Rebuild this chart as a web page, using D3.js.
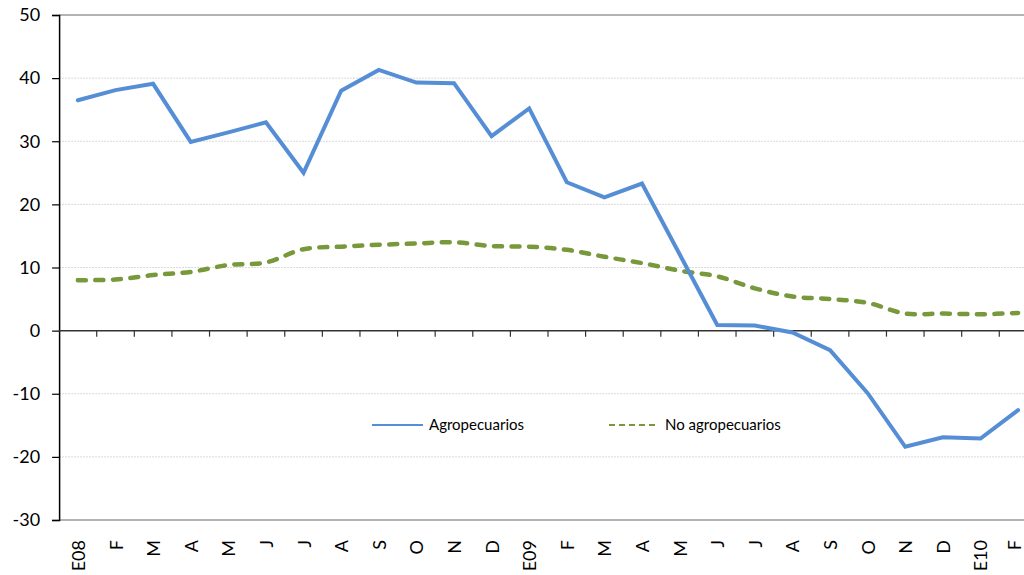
<!DOCTYPE html>
<html><head><meta charset="utf-8">
<script src="https://cdn.jsdelivr.net/npm/d3@7"></script>
<style>
html,body{margin:0;padding:0;background:#fff;}
svg{display:block;font-family:Lato,"Noto Sans",sans-serif;}
</style></head>
<body><svg id="c" width="1024" height="575"></svg>
<script>
const categories = ["E08","F","M","A","M","J","J","A","S","O","N","D","E09","F","M","A","M","J","J","A","S","O","N","D","E10","F"];
const agropecuarios = [36.5,38.1,39.1,29.9,31.4,33.0,25.0,38.0,41.3,39.3,39.2,30.8,35.2,23.5,21.1,23.3,12.1,0.9,0.8,-0.3,-3.1,-9.9,-18.4,-16.9,-17.1,-12.6];
const noAgropecuarios = [8.0,8.1,8.8,9.3,10.4,10.8,12.9,13.3,13.6,13.8,14.0,13.4,13.3,12.8,11.7,10.7,9.5,8.6,6.7,5.4,5.0,4.4,2.7,2.7,2.6,2.8];
const yTicks = [-30,-20,-10,0,10,20,30,40,50];
const seriesNames = ["Agropecuarios","No agropecuarios"];

const svg = d3.select("#c");
const pLeft = 59.1, pRight = 1036.9, pTop = 15, pBottom = 520;
const x = d3.scaleBand().domain(d3.range(categories.length)).range([pLeft, pRight]).padding(0);
const y = d3.scaleLinear().domain([-30, 50]).range([pBottom, pTop]);
const cx = i => x(i) + x.bandwidth() / 2;

// gridlines
svg.append("g").selectAll("line").data(yTicks.filter(t => t !== 0 && t !== 50 && t !== -30)).join("line")
  .attr("x1", pLeft).attr("x2", 1024).attr("y1", d => y(d)).attr("y2", d => y(d))
  .attr("stroke", "#d9d9d9").attr("stroke-width", 1).attr("stroke-dasharray", "2,1");
// top & bottom border lines
svg.append("g").selectAll("line").data([50, -30]).join("line")
  .attr("x1", pLeft).attr("x2", 1024).attr("y1", d => y(d)).attr("y2", d => y(d))
  .attr("stroke", "#9a9a9a").attr("stroke-width", 1.5);

// left axis
const yAxis = d3.axisLeft(y).tickValues(yTicks).tickSize(7).tickPadding(12).tickFormat(d3.format("d"));
const gy = svg.append("g").attr("transform", `translate(${pLeft},0)`).call(yAxis);
gy.select(".domain").attr("stroke", "#000").attr("stroke-width", 1.5);
gy.selectAll(".tick line").attr("stroke", "#000").attr("stroke-width", 1.2);
gy.selectAll(".tick text").attr("font-size", 18).attr("fill", "#000").attr("font-family", "Lato, sans-serif")
  .text(d => d < 0 ? "-" + Math.abs(d) : d);

// zero line
svg.append("line").attr("x1", pLeft).attr("x2", 1024).attr("y1", y(0)).attr("y2", y(0))
  .attr("stroke", "#333").attr("stroke-width", 1.5);
// x ticks at category boundaries
svg.append("g").selectAll("line").data(d3.range(1, categories.length)).join("line")
  .attr("x1", d => x(d)).attr("x2", d => x(d)).attr("y1", y(0)).attr("y2", y(0) + 6)
  .attr("stroke", "#333").attr("stroke-width", 1.2);

// x labels
svg.append("g").selectAll("text").data(categories).join("text")
  .attr("transform", (d, i) => `translate(${Math.min(cx(i) + 7, 1021)},540) rotate(-90)`)
  .attr("text-anchor", "end").attr("font-size", 18).attr("fill", "#000")
  .text(d => d);

// lines
const lineBlue = d3.line().x((d, i) => cx(i)).y(d => y(d));
const lineGreen = d3.line().x((d, i) => cx(i)).y(d => y(d)).curve(d3.curveCatmullRom.alpha(0.5));
svg.append("path").datum(noAgropecuarios).attr("d", lineGreen)
  .attr("fill", "none").attr("stroke", "#77983b").attr("stroke-width", 4.5)
  .attr("stroke-dasharray", "8,9.5").attr("stroke-linecap", "round");
svg.append("path").datum(agropecuarios).attr("d", lineBlue)
  .attr("fill", "none").attr("stroke", "#558ed5").attr("stroke-width", 4)
  .attr("stroke-linejoin", "miter").attr("stroke-linecap", "round");

// legend
const lg = svg.append("g").attr("font-size", 15).attr("fill", "#000");
lg.append("line").attr("x1", 372).attr("x2", 423).attr("y1", 425).attr("y2", 425)
  .attr("stroke", "#558ed5").attr("stroke-width", 2.2);
lg.append("text").attr("x", 429).attr("y", 430).text(seriesNames[0]);
lg.append("line").attr("x1", 609).attr("x2", 656).attr("y1", 425).attr("y2", 425)
  .attr("stroke", "#77983b").attr("stroke-width", 2.2).attr("stroke-dasharray", "6,4");
lg.append("text").attr("x", 665).attr("y", 430).text(seriesNames[1]);
</script></body></html>
